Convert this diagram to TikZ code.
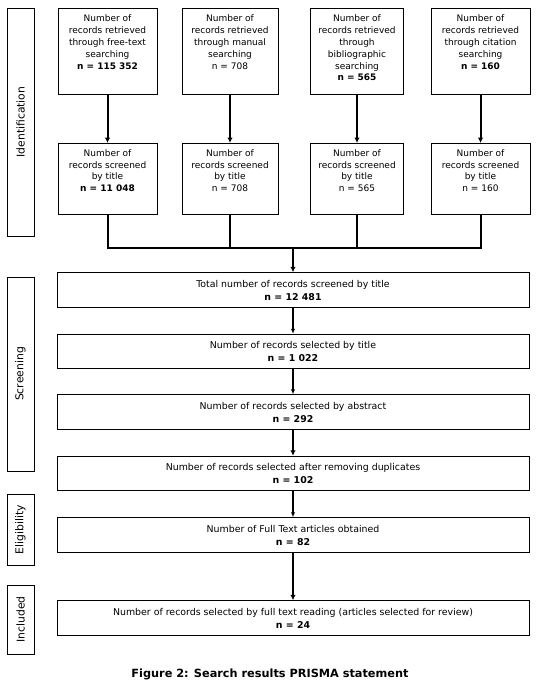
\documentclass[tikz,border=0pt]{standalone}
\usepackage{fontspec}
\setmainfont{DejaVu Sans}
\usetikzlibrary{arrows.meta}
\tikzset{
  box/.style={draw=black, line width=1pt, inner sep=0pt, fill=white},
  wide/.style={box, minimum width=472pt, minimum height=34.5pt, align=center, font=\fontsize{9.4}{13}\selectfont},
  side/.style={draw=black, line width=1pt, minimum width=27pt, inner sep=0pt, font=\fontsize{10.8}{12}\selectfont},
  thickarrow/.style={line width=2pt, -{Latex[length=5.5pt,width=5.5pt]}},
  thinarrow/.style={line width=1.1pt, -{Latex[length=5pt,width=4.5pt]}},
  conn/.style={line width=2pt}
}
\newcommand{\tbox}[3]{\begin{minipage}[t][#1][t]{#2}\centering\fontsize{9}{11.8}\selectfont #3\end{minipage}}
\begin{document}
\begin{tikzpicture}[x=1pt,y=-1pt]
\useasboundingbox (0,0) rectangle (542,688);
% side labels
\node[side, minimum height=228pt] (sid) at (20.5,122) {\rotatebox{90}{Identification}};
\node[side, minimum height=194pt] (ssc) at (20.5,374) {\rotatebox{90}{Screening}};
\node[side, minimum height=71pt] (sel) at (20.5,529.5) {\rotatebox{90}{Eligibility}};
\node[side, minimum height=69pt] (sin) at (20.5,619.5) {\rotatebox{90}{Included}};
% top row
\node[box, anchor=north] (a1) at (107.5,8) {\tbox{86pt}{99pt}{\vspace{6.5pt}Number of\\ records retrieved\\ through free-text\\ searching\\ \textbf{n = 115 352}}};
\node[box, anchor=north] (a2) at (230,8) {\tbox{86pt}{96pt}{\vspace{6.5pt}Number of\\ records retrieved\\ through manual\\ searching\\ n = 708}};
\node[box, anchor=north] (a3) at (357,8) {\tbox{86pt}{93pt}{\vspace{6.5pt}Number of\\ records retrieved\\ through\\ bibliographic\\ searching\\ \textbf{n = 565}}};
\node[box, anchor=north] (a4) at (480.5,8) {\tbox{86pt}{99pt}{\vspace{6.5pt}Number of\\ records retrieved\\ through citation\\ searching\\ \textbf{n = 160}}};
% second row
\node[box, anchor=north] (b1) at (107.5,143) {\tbox{71pt}{99pt}{\vspace{6pt}Number of\\ records screened\\ by title\\ \textbf{n = 11 048}}};
\node[box, anchor=north] (b2) at (230,143) {\tbox{71pt}{96pt}{\vspace{6pt}Number of\\ records screened\\ by title\\ n = 708}};
\node[box, anchor=north] (b3) at (357,143) {\tbox{71pt}{93pt}{\vspace{6pt}Number of\\ records screened\\ by title\\ n = 565}};
\node[box, anchor=north] (b4) at (480.5,143) {\tbox{71pt}{99pt}{\vspace{6pt}Number of\\ records screened\\ by title\\ n = 160}};
% arrows top to second row
\draw[thickarrow] (a1) -- (b1);
\draw[thickarrow] (a2) -- (b2);
\draw[thickarrow] (a3) -- (b3);
\draw[thickarrow] (a4) -- (b4);
% wide boxes
\node[wide] (c1) at (293,290) {Total number of records screened by title\\ \textbf{n = 12 481}};
\node[wide] (c2) at (293,351.5) {Number of records selected by title\\ \textbf{n = 1 022}};
\node[wide] (c3) at (293,412) {Number of records selected by abstract\\ \textbf{n = 292}};
\node[wide] (c4) at (293,473.5) {Number of records selected after removing duplicates\\ \textbf{n = 102}};
\node[wide] (c5) at (293,535) {Number of Full Text articles obtained\\ \textbf{n = 82}};
\node[wide] (c6) at (293,618) {Number of records selected by full text reading (articles selected for review)\\ \textbf{n = 24}};
% merge connector
\coordinate (j) at (293,247.5);
\draw[conn] (b1.south) |- (j) -| (b4.south);
\draw[conn] (b2.south) -- (b2.south |- j);
\draw[conn] (b3.south) -- (b3.south |- j);
\draw[thickarrow] (j) -- (c1.north);
% vertical arrows
\draw[thinarrow] (c1) -- (c2);
\draw[thinarrow] (c2) -- (c3);
\draw[thickarrow] (c3) -- (c4);
\draw[thinarrow] (c4) -- (c5);
\draw[thickarrow] (c5) -- (c6);
% caption
\node[font=\fontsize{11.3}{14}\selectfont\bfseries] (cap) at (270,674) {Figure 2: Search results PRISMA statement};
\end{tikzpicture}
\end{document}
